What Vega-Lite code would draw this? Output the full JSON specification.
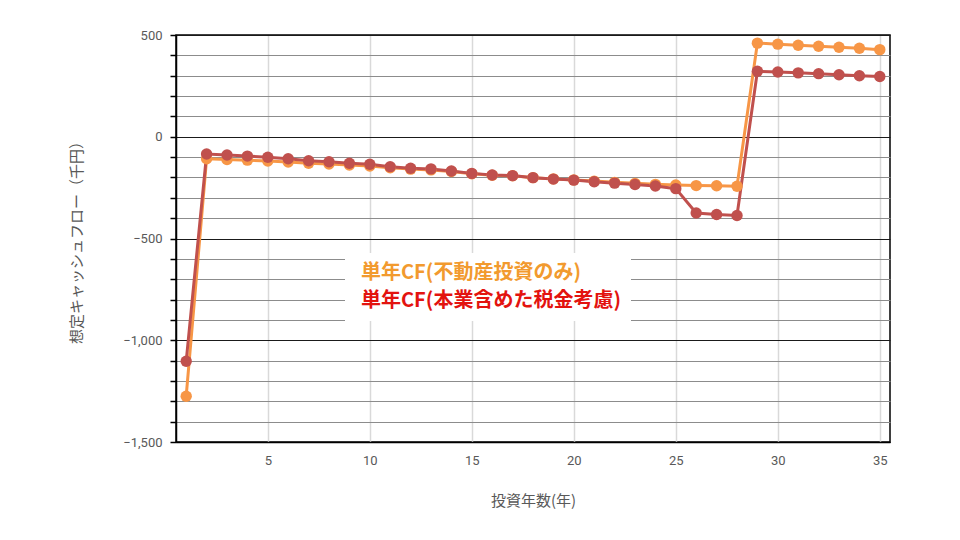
{
  "$schema": "https://vega.github.io/schema/vega-lite/v6.json",
  "width": 714,
  "height": 407,
  "autosize": "none",
  "padding": {"left": 176, "top": 35, "right": 70, "bottom": 98},
  "background": "white",
  "config": {
    "view": {"stroke": "black", "strokeWidth": 1.5},
    "axis": {
      "labelFont": "Roboto",
      "labelFontSize": 13,
      "labelColor": "#595959",
      "titleFont": "Noto Sans CJK JP",
      "titleFontSize": 15,
      "titleFontWeight": "normal",
      "titleColor": "#595959",
      "domainColor": "black",
      "domainWidth": 1.5
    }
  },
  "data": {
    "values": [
      {"year": 1, "series": "単年CF(不動産投資のみ)", "cf": -1275},
      {"year": 2, "series": "単年CF(不動産投資のみ)", "cf": -108},
      {"year": 3, "series": "単年CF(不動産投資のみ)", "cf": -112},
      {"year": 4, "series": "単年CF(不動産投資のみ)", "cf": -115},
      {"year": 5, "series": "単年CF(不動産投資のみ)", "cf": -119},
      {"year": 6, "series": "単年CF(不動産投資のみ)", "cf": -124},
      {"year": 7, "series": "単年CF(不動産投資のみ)", "cf": -130},
      {"year": 8, "series": "単年CF(不動産投資のみ)", "cf": -134},
      {"year": 9, "series": "単年CF(不動産投資のみ)", "cf": -139},
      {"year": 10, "series": "単年CF(不動産投資のみ)", "cf": -144},
      {"year": 11, "series": "単年CF(不動産投資のみ)", "cf": -152},
      {"year": 12, "series": "単年CF(不動産投資のみ)", "cf": -159},
      {"year": 13, "series": "単年CF(不動産投資のみ)", "cf": -163},
      {"year": 14, "series": "単年CF(不動産投資のみ)", "cf": -171},
      {"year": 15, "series": "単年CF(不動産投資のみ)", "cf": -182},
      {"year": 16, "series": "単年CF(不動産投資のみ)", "cf": -189},
      {"year": 17, "series": "単年CF(不動産投資のみ)", "cf": -192},
      {"year": 18, "series": "単年CF(不動産投資のみ)", "cf": -201},
      {"year": 19, "series": "単年CF(不動産投資のみ)", "cf": -207},
      {"year": 20, "series": "単年CF(不動産投資のみ)", "cf": -212},
      {"year": 21, "series": "単年CF(不動産投資のみ)", "cf": -218},
      {"year": 22, "series": "単年CF(不動産投資のみ)", "cf": -224},
      {"year": 23, "series": "単年CF(不動産投資のみ)", "cf": -229},
      {"year": 24, "series": "単年CF(不動産投資のみ)", "cf": -234},
      {"year": 25, "series": "単年CF(不動産投資のみ)", "cf": -237},
      {"year": 26, "series": "単年CF(不動産投資のみ)", "cf": -240},
      {"year": 27, "series": "単年CF(不動産投資のみ)", "cf": -241},
      {"year": 28, "series": "単年CF(不動産投資のみ)", "cf": -243},
      {"year": 29, "series": "単年CF(不動産投資のみ)", "cf": 460},
      {"year": 30, "series": "単年CF(不動産投資のみ)", "cf": 455},
      {"year": 31, "series": "単年CF(不動産投資のみ)", "cf": 450},
      {"year": 32, "series": "単年CF(不動産投資のみ)", "cf": 445},
      {"year": 33, "series": "単年CF(不動産投資のみ)", "cf": 440},
      {"year": 34, "series": "単年CF(不動産投資のみ)", "cf": 435},
      {"year": 35, "series": "単年CF(不動産投資のみ)", "cf": 428},
      {"year": 1, "series": "単年CF(本業含めた税金考慮)", "cf": -1103},
      {"year": 2, "series": "単年CF(本業含めた税金考慮)", "cf": -85},
      {"year": 3, "series": "単年CF(本業含めた税金考慮)", "cf": -90},
      {"year": 4, "series": "単年CF(本業含めた税金考慮)", "cf": -95},
      {"year": 5, "series": "単年CF(本業含めた税金考慮)", "cf": -101},
      {"year": 6, "series": "単年CF(本業含めた税金考慮)", "cf": -108},
      {"year": 7, "series": "単年CF(本業含めた税金考慮)", "cf": -118},
      {"year": 8, "series": "単年CF(本業含めた税金考慮)", "cf": -123},
      {"year": 9, "series": "単年CF(本業含めた税金考慮)", "cf": -130},
      {"year": 10, "series": "単年CF(本業含めた税金考慮)", "cf": -135},
      {"year": 11, "series": "単年CF(本業含めた税金考慮)", "cf": -147},
      {"year": 12, "series": "単年CF(本業含めた税金考慮)", "cf": -155},
      {"year": 13, "series": "単年CF(本業含めた税金考慮)", "cf": -158},
      {"year": 14, "series": "単年CF(本業含めた税金考慮)", "cf": -168},
      {"year": 15, "series": "単年CF(本業含めた税金考慮)", "cf": -180},
      {"year": 16, "series": "単年CF(本業含めた税金考慮)", "cf": -188},
      {"year": 17, "series": "単年CF(本業含めた税金考慮)", "cf": -191},
      {"year": 18, "series": "単年CF(本業含めた税金考慮)", "cf": -201},
      {"year": 19, "series": "単年CF(本業含めた税金考慮)", "cf": -208},
      {"year": 20, "series": "単年CF(本業含めた税金考慮)", "cf": -213},
      {"year": 21, "series": "単年CF(本業含めた税金考慮)", "cf": -221},
      {"year": 22, "series": "単年CF(本業含めた税金考慮)", "cf": -228},
      {"year": 23, "series": "単年CF(本業含めた税金考慮)", "cf": -235},
      {"year": 24, "series": "単年CF(本業含めた税金考慮)", "cf": -242},
      {"year": 25, "series": "単年CF(本業含めた税金考慮)", "cf": -255},
      {"year": 26, "series": "単年CF(本業含めた税金考慮)", "cf": -375},
      {"year": 27, "series": "単年CF(本業含めた税金考慮)", "cf": -382},
      {"year": 28, "series": "単年CF(本業含めた税金考慮)", "cf": -387},
      {"year": 29, "series": "単年CF(本業含めた税金考慮)", "cf": 322},
      {"year": 30, "series": "単年CF(本業含めた税金考慮)", "cf": 318},
      {"year": 31, "series": "単年CF(本業含めた税金考慮)", "cf": 314},
      {"year": 32, "series": "単年CF(本業含めた税金考慮)", "cf": 310},
      {"year": 33, "series": "単年CF(本業含めた税金考慮)", "cf": 305},
      {"year": 34, "series": "単年CF(本業含めた税金考慮)", "cf": 300},
      {"year": 35, "series": "単年CF(本業含めた税金考慮)", "cf": 296}
    ]
  },
  "mark": {
    "type": "line",
    "strokeWidth": 3,
    "point": {"filled": true, "size": 130, "opacity": 1}
  },
  "encoding": {
    "x": {
      "field": "year",
      "type": "quantitative",
      "title": "投資年数(年)",
      "scale": {"domain": [0.5, 35.5], "nice": false, "zero": false},
      "axis": {
        "values": [5, 10, 15, 20, 25, 30, 35],
        "ticks": false,
        "labelPadding": 12,
        "titlePadding": 26,
        "gridColor": "#d9d9d9",
        "gridWidth": 1.5
      }
    },
    "y": {
      "field": "cf",
      "type": "quantitative",
      "title": "想定キャッシュフロー（千円）",
      "scale": {"domain": [-1500, 500], "nice": false},
      "axis": {
        "values": [-1500, -1400, -1300, -1200, -1100, -1000, -900, -800, -700, -600, -500, -400, -300, -200, -100, 0, 100, 200, 300, 400, 500],
        "labelExpr": "datum.value % 500 === 0 ? format(datum.value, ',') : ''",
        "tickColor": "black",
        "tickSize": 6,
        "tickWidth": 1.5,
        "labelPadding": 8,
        "titlePadding": 38,
        "gridColor": {"condition": {"test": "datum.value % 500 === 0", "value": "#1a1a1a"}, "value": "#8c8c8c"},
        "gridWidth": 1.2
      }
    },
    "color": {
      "field": "series",
      "type": "nominal",
      "sort": null,
      "scale": {
        "domain": ["単年CF(不動産投資のみ)", "単年CF(本業含めた税金考慮)"],
        "range": ["#F79646", "#C0504D"]
      },
      "legend": {
        "title": null,
        "orient": "none",
        "legendX": 169,
        "legendY": 218,
        "fillColor": "white",
        "padding": 10,
        "symbolSize": 0,
        "symbolStrokeWidth": 0,
        "symbolOpacity": 0,
        "labelOffset": -14,
        "labelFont": "Noto Sans CJK JP",
        "labelFontSize": 20,
        "labelFontWeight": "bold",
        "labelLimit": 400,
        "rowPadding": 8,
        "encode": {
          "labels": {
            "update": {
              "fill": {"signal": "datum.label === '単年CF(不動産投資のみ)' ? '#F29A2E' : '#E3130F'"}
            }
          }
        }
      }
    }
  }
}
